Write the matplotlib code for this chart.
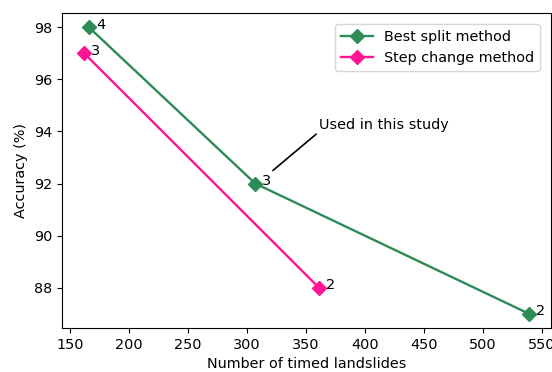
import matplotlib
matplotlib.use("Agg")
import matplotlib.pyplot as plt

# number of timed landslides vs accuracy for each method
best_split_n = [166, 307, 539]
best_split_acc = [98, 92, 87]
best_split_labels = ["4", "3", "2"]

step_change_n = [162, 361]
step_change_acc = [97, 88]
step_change_labels = ["3", "2"]

plt.rcParams["font.size"] = 10.4

fig = plt.figure(figsize=(5.52, 3.72), dpi=100)
ax = fig.add_axes([0.1123, 0.1183, 0.886, 0.8468])

ax.plot(best_split_n, best_split_acc, marker="D", color="seagreen",
        markersize=7, linewidth=1.7, label="Best split method")
ax.plot(step_change_n, step_change_acc, marker="D", color="deeppink",
        markersize=7, linewidth=1.7, label="Step change method")

for n, acc, lab in zip(best_split_n, best_split_acc, best_split_labels):
    ax.annotate(lab, (n, acc), xytext=(5, -1), textcoords="offset points",
                va="baseline")
for n, acc, lab in zip(step_change_n, step_change_acc, step_change_labels):
    ax.annotate(lab, (n, acc), xytext=(5, -1), textcoords="offset points",
                va="baseline")

# leader line from the chosen point to the note
ax.annotate("Used in this study", xy=(322, 92.5), xytext=(361, 94.1),
            arrowprops=dict(arrowstyle="-", color="black", linewidth=1.2,
                            shrinkA=0, shrinkB=0, relpos=(0, 0)))

ax.set_xlabel("Number of timed landslides")
ax.set_ylabel("Accuracy (%)")
ax.legend(loc="upper right", borderaxespad=0.75, handlelength=2.2)

plt.savefig("out.png", dpi=100)
